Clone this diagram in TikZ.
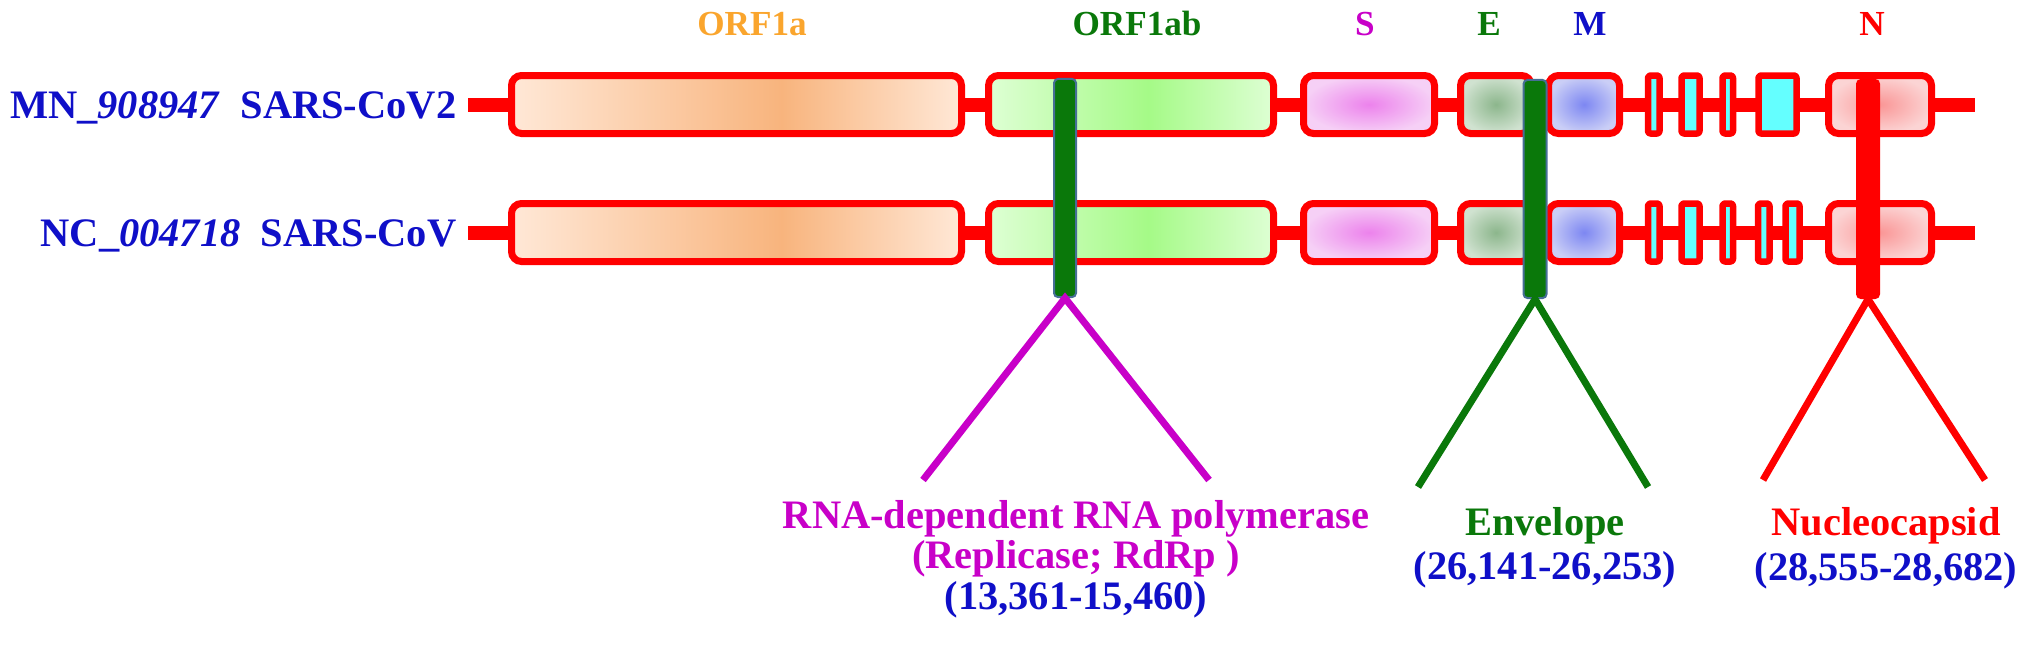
\documentclass[tikz,border=0pt]{standalone}
\usepackage{fontspec}
\setmainfont{Liberation Serif}
\usetikzlibrary{positioning}
\definecolor{labelblue}{RGB}{15, 15, 200}
\definecolor{orfaorange}{RGB}{250, 165, 45}
\definecolor{darkgreen}{RGB}{10, 120, 10}
\definecolor{rdrpmagenta}{RGB}{200, 0, 200}
\definecolor{genered}{RGB}{255, 0, 0}
\definecolor{barblue}{RGB}{70, 110, 150}
\definecolor{peachlight}{RGB}{255, 232, 215}
\definecolor{peachdark}{RGB}{248, 180, 125}
\definecolor{greenlight}{RGB}{222, 255, 212}
\definecolor{greenmid}{RGB}{165, 250, 135}
\definecolor{pinklight}{RGB}{246, 208, 246}
\definecolor{pinkmid}{RGB}{236, 130, 236}
\definecolor{sagelight}{RGB}{208, 226, 208}
\definecolor{sagemid}{RGB}{140, 182, 140}
\definecolor{lavlight}{RGB}{202, 206, 246}
\definecolor{lavmid}{RGB}{125, 135, 242}
\definecolor{rosslight}{RGB}{251, 212, 212}
\definecolor{rossmid}{RGB}{250, 150, 150}
\definecolor{orfcyan}{RGB}{100, 255, 255}
\pgfdeclarehorizontalshading{orfashade}{100bp}{color(0bp)=(peachlight); color(25bp)=(peachlight); color(55bp)=(peachdark); color(75bp)=(peachlight); color(100bp)=(peachlight)}
\pgfdeclarehorizontalshading{orfabshade}{100bp}{color(0bp)=(greenlight); color(25bp)=(greenlight); color(53bp)=(greenmid); color(75bp)=(greenlight); color(100bp)=(greenlight)}

\begin{document}
\begin{tikzpicture}[
    x=0.01cm, y=-0.01cm,
    gene/.style={draw=genered, line width=0.07cm, rounded corners=0.1cm},
    slim/.style={draw=genered, line width=0.065cm, line join=round, rounded corners=0.025cm, fill=orfcyan},
    backbone/.style={genered, line width=0.14cm},
    bar/.style={rectangle, rounded corners=0.04cm, line width=0.02cm, minimum height=2.18cm, inner sep=0pt},
    leg/.style={line width=0.07cm},
    lbl/.style={font=\fontsize{11.5}{13}\selectfont\bfseries, inner sep=0pt},
    toplbl/.style={font=\fontsize{10}{12}\selectfont\bfseries, inner sep=0pt}
  ]
  \useasboundingbox (0,0) rectangle (2031,645);

  % gene names on top
  \node[toplbl, text=orfaorange, anchor=base] (t-orf1a) at (752,35) {ORF1a};
  \node[toplbl, text=darkgreen, anchor=base] (t-orf1ab) at (1137,35) {ORF1ab};
  \node[toplbl, text=rdrpmagenta, anchor=base] (t-s) at (1365,35) {S};
  \node[toplbl, text=darkgreen, anchor=base] (t-e) at (1489,35) {E};
  \node[toplbl, text=labelblue, anchor=base] (t-m) at (1590,35) {M};
  \node[toplbl, text=genered, anchor=base] (t-n) at (1872,35) {N};

  % genome names
  \node[lbl, text=labelblue, anchor=base east] (g-cov2) at (457,118) {MN\_\textit{908947}\ \ SARS-CoV2};
  \node[lbl, text=labelblue, anchor=base east] (g-cov) at (457,246) {NC\_\textit{004718}\ \ SARS-CoV};

  % both genomes
  \foreach \r in {104.5, 232.5} {
    \draw[backbone] (468,\r) -- (1975,\r);
    \draw[gene, shade, shading=orfashade] (511.5,\r-29) rectangle (961.5,\r+29);
    \draw[gene, shade, shading=orfabshade] (988.5,\r-29) rectangle (1273.5,\r+29);
    \draw[gene, inner color=pinkmid, outer color=pinklight] (1303.5,\r-29) rectangle (1434.5,\r+29);
    \draw[gene, inner color=sagemid, outer color=sagelight] (1460.5,\r-29) rectangle (1531.5,\r+29);
    \draw[gene, inner color=lavmid, outer color=lavlight] (1548.5,\r-29) rectangle (1619.5,\r+29);
    \draw[gene, inner color=rossmid, outer color=rosslight] (1828.5,\r-29) rectangle (1931.5,\r+29);
    \draw[slim] (1648,\r-29) rectangle (1659.5,\r+29);
    \draw[slim] (1681.5,\r-29) rectangle (1699.5,\r+29);
    \draw[slim] (1722.5,\r-29) rectangle (1733,\r+29);
  }
  % accessory ORFs that differ
  \draw[slim] (1758.5,75.5) rectangle (1796.5,133.5);
  \draw[slim] (1758,203.5) rectangle (1769.5,261.5);
  \draw[slim] (1785.5,203.5) rectangle (1799.5,261.5);

  % conserved regions
  \node[bar, draw=barblue, fill=darkgreen, minimum width=0.22cm] (rdrp) at (1065,188) {};
  \node[bar, draw=barblue, fill=darkgreen, minimum width=0.23cm] (env) at (1535,189) {};
  \node[bar, draw=genered, fill=genered, minimum width=0.22cm] (ncap) at (1868,189) {};

  \coordinate (rdrp-l) at (923,480);
  \coordinate (rdrp-r) at (1209,480);
  \coordinate (env-l) at (1418,487);
  \coordinate (env-r) at (1648,487);
  \coordinate (ncap-l) at (1763,480);
  \coordinate (ncap-r) at (1985,480);

  \draw[leg, rdrpmagenta] (rdrp-l) -- (rdrp.south) -- (rdrp-r);
  \draw[leg, darkgreen] (env-l) -- (env.south) -- (env-r);
  \draw[leg, genered] (ncap-l) -- (ncap.south) -- (ncap-r);

  % labels below
  \node[lbl, text=rdrpmagenta, anchor=base] (rdrp-name) at (1076,528) {RNA-dependent RNA polymerase};
  \node[lbl, text=rdrpmagenta, anchor=base] (rdrp-alt) at (1076,568) {(Replicase; RdRp )};
  \node[lbl, text=labelblue, anchor=base] (rdrp-pos) at (1076,609) {(13,361-15,460)};
  \node[lbl, text=darkgreen, anchor=base] (env-name) at (1545,535) {Envelope};
  \node[lbl, text=labelblue, anchor=base] (env-pos) at (1545,579) {(26,141-26,253)};
  \node[lbl, text=genered, anchor=base] (ncap-name) at (1886,535) {Nucleocapsid};
  \node[lbl, text=labelblue, anchor=base] (ncap-pos) at (1886,580) {(28,555-28,682)};
\end{tikzpicture}
\end{document}
